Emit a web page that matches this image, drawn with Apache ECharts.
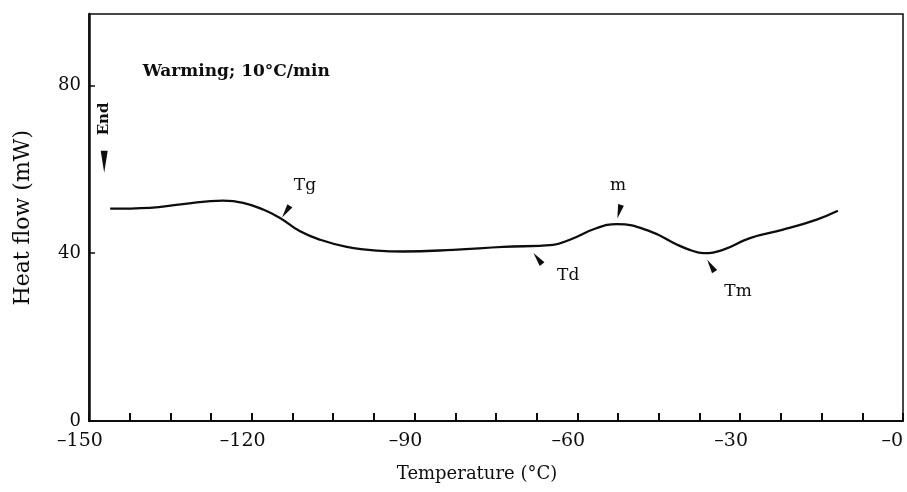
<!DOCTYPE html>
<html>
<head>
<meta charset="utf-8">
<script src="https://cdn.jsdelivr.net/npm/echarts@6/dist/echarts.min.js"></script>
<style>
  html, body { margin: 0; padding: 0; background: #fff; }
  #chart { width: 907px; height: 492px; }
</style>
</head>
<body>
<div id="chart"></div>
<script>
// DSC trace
const temps = [-146.1, -138.8, -132.7, -125.3, -121.6, -117.9, -114.8, -111.1, -107.4, -102.5,
  -96.9, -92.1, -82.9, -73.7, -64.5, -61.4, -56.4, -52.7, -46.6, -41.6,
  -39.3, -36.8, -33.2, -28.2, -22.1, -15.9, -12.0];
const heatFlow = [50.6, 50.8, 51.7, 52.5, 52.0, 50.4, 48.4, 45.2, 43.2, 41.5,
  40.6, 40.4, 40.8, 41.5, 42.0, 43.2, 46.0, 46.9, 45.2, 42.0,
  40.8, 40.0, 40.8, 43.6, 45.6, 48.0, 50.1];

const xLabelValues = [-150, -120, -90, -60, -30, 0];
const yLabelValues = [0, 40, 80];

// annotation labels: [name, temp, heatflow]
const noteLabels = [
  ["Tg", -110.2, 56.1],
  ["m", -52.5, 56.1],
  ["Td", -61.7, 34.6],
  ["Tm", -30.4, 30.8]
];
// arrow heads: [temp, heatflow, rotation]
const noteArrows = [
  [-113.7, 49.9, 146],
  [-52.3, 49.9, 165],
  [-67.3, 38.7, 38],
  [-35.4, 37.0, 32]
];

const serif = "DejaVu Serif";
const ink = "#0d0d0d";
const chart = echarts.init(document.getElementById("chart"));

const markData = [];
noteLabels.forEach(([name, x, y]) => {
  markData.push({
    coord: [x, y], symbol: "circle", symbolSize: 1,
    itemStyle: { color: "transparent" },
    label: { show: true, position: "inside", formatter: name, color: ink, fontFamily: serif, fontSize: 17 }
  });
});
noteArrows.forEach(([x, y, r]) => {
  markData.push({
    coord: [x, y], symbol: "triangle", symbolSize: [6, 14], symbolRotate: r,
    itemStyle: { color: ink }, label: { show: false }
  });
});
// "End" marker
markData.push({
  coord: [-147.2, 61.8], symbol: "triangle", symbolSize: [7, 22], symbolRotate: 180,
  itemStyle: { color: ink }, label: { show: false }
});
markData.push({
  coord: [-147.2, 72.0], symbol: "circle", symbolSize: 1,
  itemStyle: { color: "transparent" },
  label: { show: true, position: "inside", formatter: "End", rotate: 90, color: ink, fontFamily: serif, fontSize: 15, fontWeight: "bold" }
});
markData.push({
  coord: [-140.2, 83.3], symbol: "circle", symbolSize: 1,
  itemStyle: { color: "transparent" },
  label: { show: true, position: "right", distance: 0, formatter: "Warming; 10°C/min", color: ink, fontFamily: serif, fontSize: 17, fontWeight: "bold" }
});

const option = {
  animation: false,
  backgroundColor: "#fff",
  grid: { left: 89, right: 4, top: 14, bottom: 71, outerBoundsMode: "none", show: true, borderColor: ink, borderWidth: 1.5 },
  graphic: [{
    type: "text", left: 12, top: 130, rotation: Math.PI / 2,
    style: { text: "Heat flow (mW)", font: "22px 'DejaVu Serif'", fill: ink }
  }],
  xAxis: {
    type: "value",
    min: -150, max: 0, interval: 7.5,
    name: "Temperature (°C)",
    nameLocation: "middle", nameGap: 44,
    nameTextStyle: { fontFamily: serif, fontSize: 18, color: ink, padding: [0, 38, 0, 0] },
    axisLine: { show: true, lineStyle: { color: ink, width: 2 } },
    axisTick: { show: true, inside: true, length: 8, lineStyle: { color: ink, width: 2 } },
    splitLine: { show: false },
    axisLabel: {
      color: ink, fontFamily: serif, fontSize: 19, margin: 11,
      showMinLabel: true, showMaxLabel: true, alignMaxLabel: "right",
      formatter: v => {
        if (!xLabelValues.some(t => Math.abs(t - v) < 1e-6)) return "";
        // trailing spaces nudge the centred labels left, as in the scan
        return "\u2013" + Math.abs(v) + (v === 0 ? "" : "   ");
      }
    }
  },
  yAxis: {
    type: "value",
    min: 0, max: 97, interval: 40,
    axisLine: { show: true, onZero: false, lineStyle: { color: ink, width: 2.5 } },
    axisTick: { show: true, inside: true, length: 6, lineStyle: { color: ink, width: 1.5 } },
    splitLine: { show: false },
    axisLabel: {
      color: ink, fontFamily: serif, fontSize: 18, margin: 8, showMaxLabel: false,
      formatter: v => yLabelValues.includes(v) ? String(v) : ""
    }
  },
  series: [{
    type: "line",
    data: temps.map((t, i) => [t, heatFlow[i]]),
    smooth: 0.45,
    showSymbol: false,
    lineStyle: { color: ink, width: 2.3 },
    markPoint: { silent: true, data: markData }
  }]
};

chart.setOption(option);
</script>
</body>
</html>
